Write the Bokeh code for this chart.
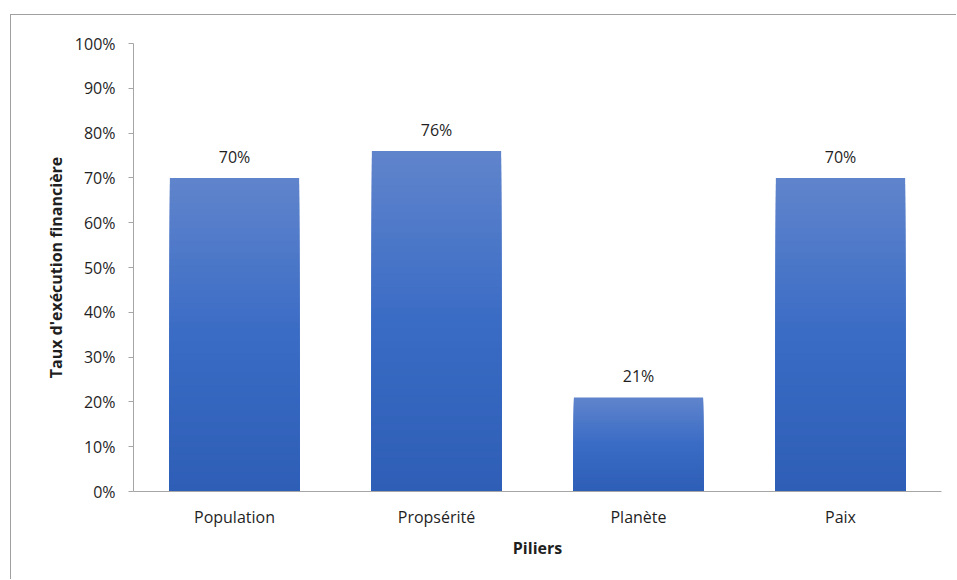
from bokeh.plotting import figure
from bokeh.models import ColumnDataSource, FactorRange, Range1d, NumeralTickFormatter, LabelSet, FixedTicker
from bokeh.core.properties import value
from bokeh.embed import file_html
from bokeh.resources import INLINE

categories = ["Population", "Propsérité", "Planète", "Paix"]
rates = [0.70, 0.76, 0.21, 0.70]
rate_labels = ["70%", "76%", "21%", "70%"]
y_ticks = [0.0, 0.1, 0.2, 0.3, 0.4, 0.5, 0.6, 0.7, 0.8, 0.9, 1.0]

FONT = "Open Sans"
TXT = "#1f1f1f"

p = figure(
    width=946, height=565,
    x_range=FactorRange(*categories),
    y_range=Range1d(0, 1.0),
    output_backend="svg", toolbar_location=None,
    min_border_left=122, min_border_right=16, min_border_top=28, min_border_bottom=89,
)
p.margin = (14, 0, 0, 10)
p.styles = {"border-top": "1px solid #a0a0a0", "border-left": "1px solid #a0a0a0"}
p.outline_line_color = None
p.xgrid.grid_line_color = None
p.ygrid.grid_line_color = None

# gradient bars: overlapping vbars, tallest (lightest top) first
top_c = (96, 132, 204)
mid_c = (58, 108, 197)
bot_c = (46, 94, 182)

def interp(t):
    if t < 0.5:
        a, b, u = top_c, mid_c, t / 0.5
    else:
        a, b, u = mid_c, bot_c, (t - 0.5) / 0.5
    return "#%02x%02x%02x" % tuple(int(round(a[i] + (b[i] - a[i]) * u)) for i in range(3))

N = 50
xs, tops, cols = [], [], []
for k in range(N):
    frac = (N - k) / N
    t = (k + 0.5) / N
    for c, v in zip(categories, rates):
        xs.append(c)
        tops.append(v * frac)
        cols.append(interp(t))
p.vbar(x=xs, top=tops, bottom=0, width=0.64, fill_color=cols, line_color=None)

src = ColumnDataSource(dict(x=categories, y=rates, t=rate_labels))
labels = LabelSet(x="x", y="y", text="t", source=src, text_align="center",
                  text_baseline="alphabetic", y_offset=15,
                  text_font=value(FONT), text_font_size="16px", text_color=TXT)
p.add_layout(labels)

p.yaxis.ticker = FixedTicker(ticks=y_ticks)
p.yaxis.formatter = NumeralTickFormatter(format="0%")
p.yaxis.minor_tick_line_color = None
p.yaxis.major_tick_in = 0
p.yaxis.major_tick_out = 5
p.yaxis.major_tick_line_color = "#a6a6a6"
p.yaxis.major_label_standoff = 13
p.yaxis.axis_label = "Taux d'exécution financière"
p.yaxis.axis_label_standoff = 5

p.xaxis.major_tick_line_color = None
p.xaxis.major_tick_in = 0
p.xaxis.major_tick_out = 0
p.xaxis.major_label_standoff = 14
p.xaxis.axis_label = "Piliers"
p.xaxis.axis_label_standoff = 6

for ax in (p.xaxis[0], p.yaxis[0]):
    ax.axis_line_color = "#a6a6a6"
    ax.major_label_text_font = FONT
    ax.major_label_text_font_size = "16px"
    ax.major_label_text_color = TXT
    ax.axis_label_text_font = FONT
    ax.axis_label_text_font_size = "16px"
    ax.axis_label_text_font_style = "bold"
    ax.axis_label_text_color = TXT

open("out.html", "w").write(file_html(p, INLINE))
